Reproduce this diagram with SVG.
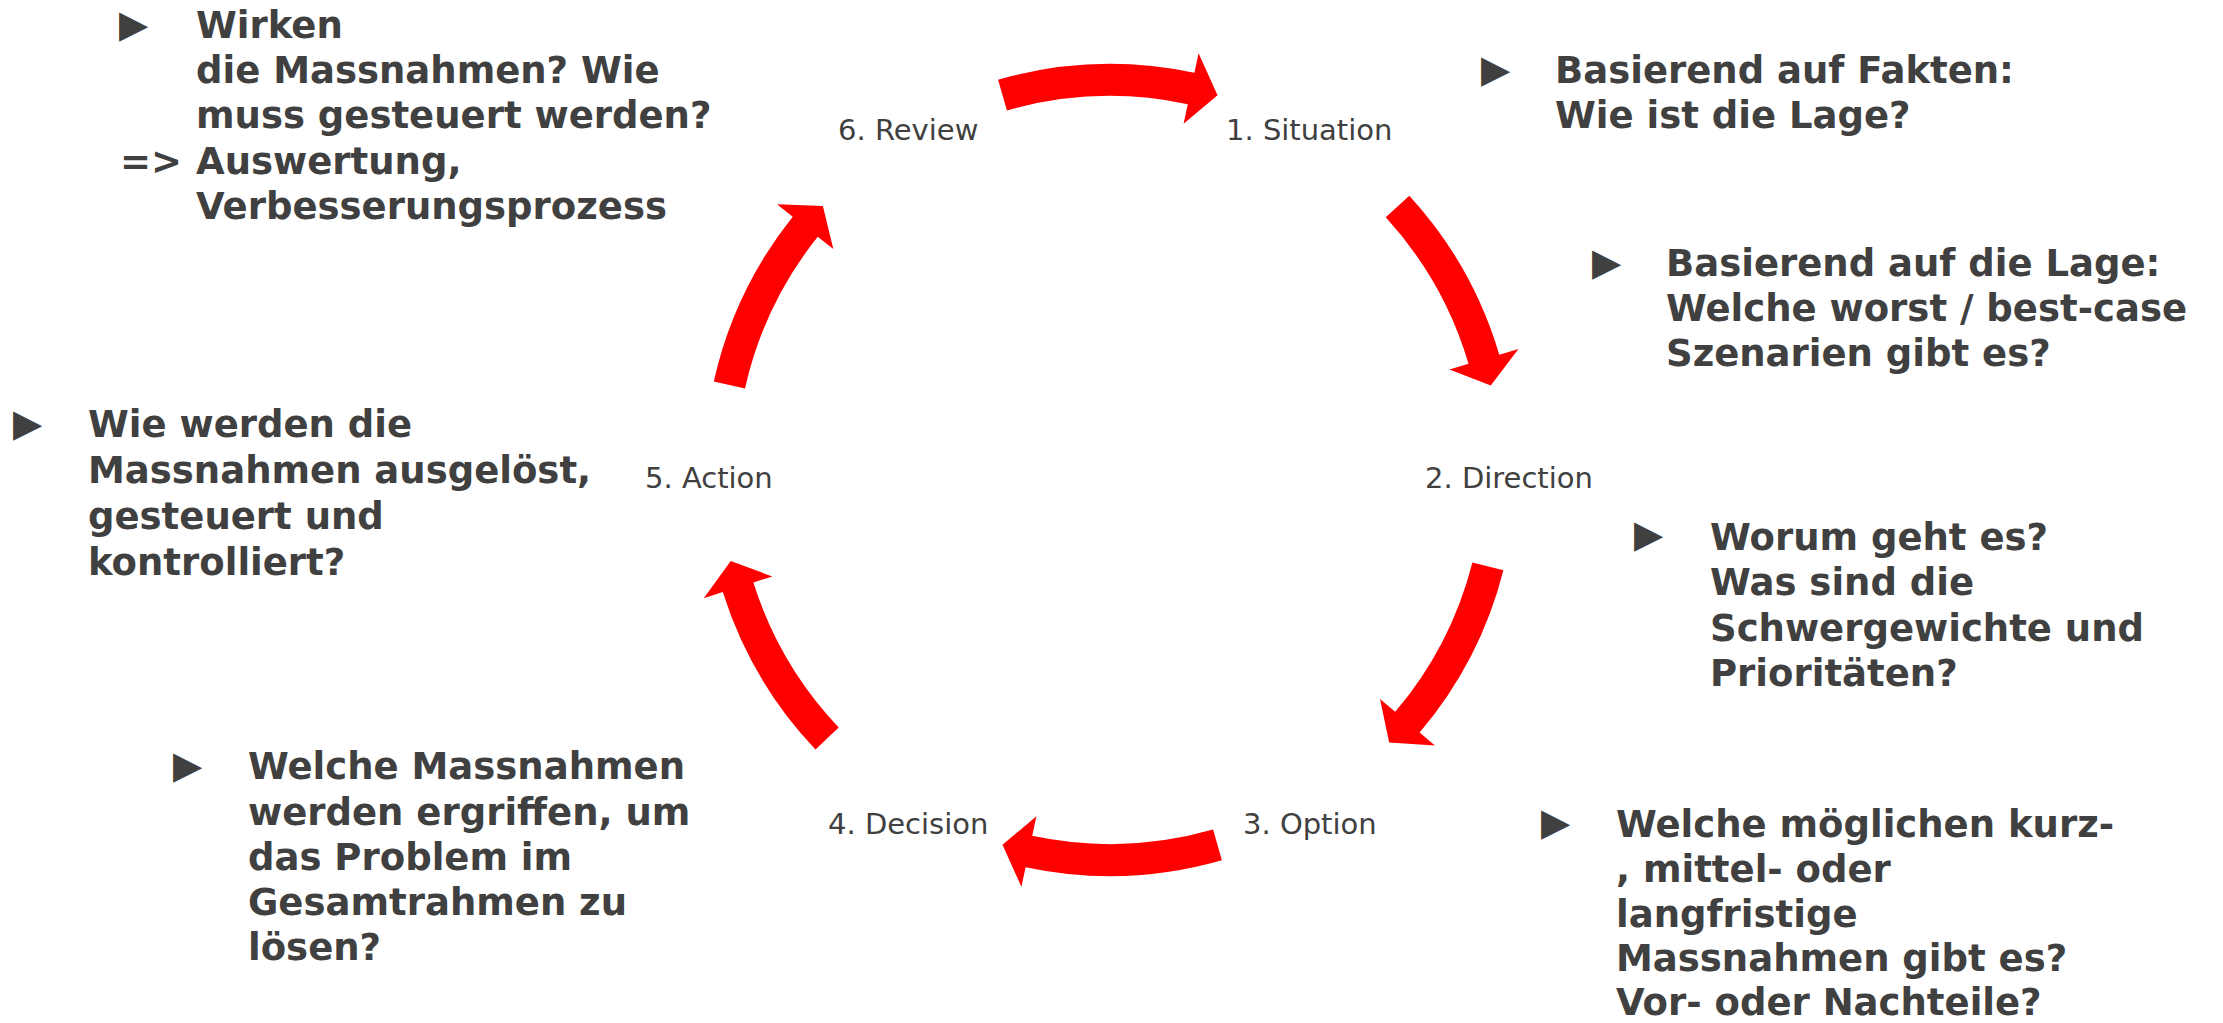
<svg xmlns="http://www.w3.org/2000/svg" width="2223" height="1023" viewBox="0 0 2223 1023">
<defs>
<style>
.lbl{font-family:"DejaVu Sans",Verdana,sans-serif;font-size:29px;fill:#404040}
.txt{font-family:"DejaVu Sans",Verdana,sans-serif;font-size:37px;font-weight:bold;fill:#404040}
.bul{font-family:"DejaVu Sans",sans-serif;font-size:38px;fill:#404040}
.arr{fill:#FF0000}
</style>
<path id="a32" d="M0,-406 A406,406 0 0 1 190.6,-358.5 L200,-376.1 L206.7,-330.7 L166.2,-312.6 L175.6,-330.2 A374,374 0 0 0 0,-374 Z"/>
<path id="a30" d="M0,-406 A406,406 0 0 1 178,-364.9 L186.7,-382.9 L195,-337.8 L155.2,-318.2 L163.9,-336.1 A374,374 0 0 0 0,-374 Z"/>
</defs>
<rect width="2223" height="1023" fill="#ffffff"/>
<g id="connectors" class="arr">
<use href="#a32" transform="translate(1110,470) rotate(-16)"/>
<use href="#a30" transform="translate(1110,470) rotate(47.5)"/>
<use href="#a30" transform="translate(1110,470) rotate(104.3)"/>
<use href="#a32" transform="translate(1110,470) rotate(164)"/>
<use href="#a30" transform="translate(1110,470) rotate(226.5)"/>
<use href="#a30" transform="translate(1110,470) rotate(282.6)"/>
</g>
<g id="node-situation">
<text class="lbl" x="1226" y="140">1. Situation</text>
<text class="bul" x="1481" y="82">▶</text>
<text class="txt" x="1555" y="83">Basierend auf Fakten:</text>
<text class="txt" x="1555" y="128">Wie ist die Lage?</text>
</g>
<g id="node-direction">
<text class="lbl" x="1425" y="488">2. Direction</text>
<text class="bul" x="1592" y="275">▶</text>
<text class="txt" x="1666" y="276">Basierend auf die Lage:</text>
<text class="txt" x="1666" y="321">Welche worst / best-case</text>
<text class="txt" x="1666" y="366">Szenarien gibt es?</text>
</g>
<g id="node-option">
<text class="lbl" x="1243" y="834">3. Option</text>
<text class="bul" x="1634" y="547">▶</text>
<text class="txt" x="1710" y="550">Worum geht es?</text>
<text class="txt" x="1710" y="595">Was sind die</text>
<text class="txt" x="1710" y="641">Schwergewichte und</text>
<text class="txt" x="1710" y="686">Prioritäten?</text>
<text class="bul" x="1541" y="835">▶</text>
<text class="txt" x="1616" y="837">Welche möglichen kurz-</text>
<text class="txt" x="1616" y="882">, mittel- oder</text>
<text class="txt" x="1616" y="927">langfristige</text>
<text class="txt" x="1616" y="971">Massnahmen gibt es?</text>
<text class="txt" x="1616" y="1015">Vor- oder Nachteile?</text>
</g>
<g id="node-decision">
<text class="lbl" x="828" y="834">4. Decision</text>
<text class="bul" x="173" y="778">▶</text>
<text class="txt" x="248" y="779">Welche Massnahmen</text>
<text class="txt" x="248" y="825">werden ergriffen, um</text>
<text class="txt" x="248" y="870">das Problem im</text>
<text class="txt" x="248" y="915">Gesamtrahmen zu</text>
<text class="txt" x="248" y="960">lösen?</text>
</g>
<g id="node-action">
<text class="lbl" x="645" y="488">5. Action</text>
<text class="bul" x="13" y="436">▶</text>
<text class="txt" x="88" y="437">Wie werden die</text>
<text class="txt" x="88" y="483">Massnahmen ausgelöst,</text>
<text class="txt" x="88" y="529">gesteuert und</text>
<text class="txt" x="88" y="575">kontrolliert?</text>
</g>
<g id="node-review">
<text class="lbl" x="838" y="140">6. Review</text>
<text class="bul" x="119" y="37">▶</text>
<text class="txt" x="196" y="38">Wirken</text>
<text class="txt" x="196" y="83">die Massnahmen? Wie</text>
<text class="txt" x="196" y="128">muss gesteuert werden?</text>
<text class="txt" x="120" y="174">=&gt;</text>
<text class="txt" x="196" y="174">Auswertung,</text>
<text class="txt" x="196" y="219">Verbesserungsprozess</text>
</g>
</svg>
